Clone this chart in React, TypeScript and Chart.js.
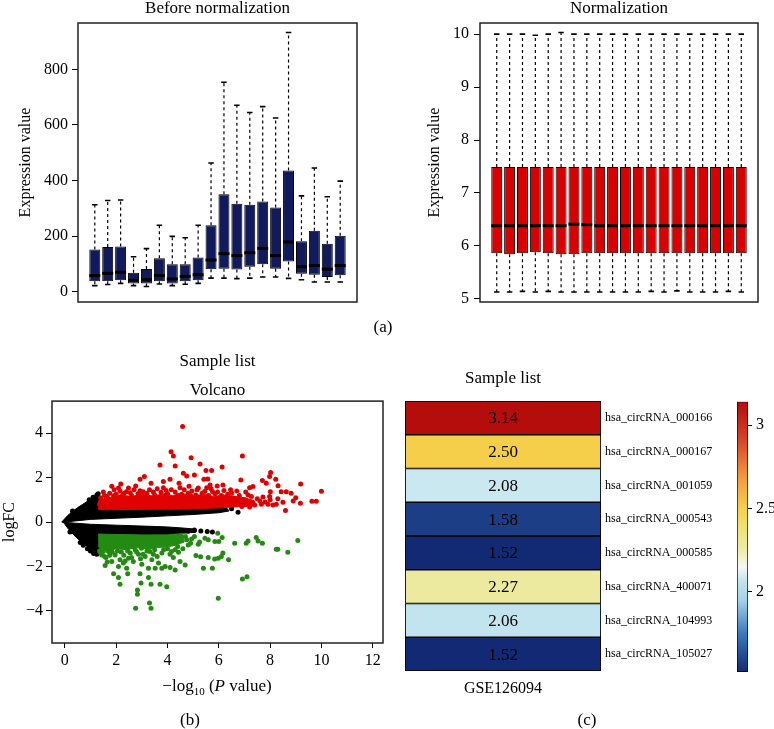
import React, { useEffect, useRef } from 'react';
import { Chart, registerables } from 'chart.js';

Chart.register(...registerables);

const FONT = '"Liberation Serif", "Times New Roman", serif';
Chart.defaults.font.family = FONT;
Chart.defaults.color = '#000';

// ---------- (a) left: Before normalization (20 samples) ----------
const rawLow = [22, 26, 30, 22, 19, 28, 22, 27, 30, 49, 49, 47, 49, 53, 53, 48, 43, 35, 35, 35];
const rawQ1 = [38, 38, 41, 30, 30, 38, 30, 38, 41, 81, 83, 80, 90, 99, 83, 109, 65, 61, 53, 59];
const rawMedian = [58, 66, 70, 41, 43, 58, 46, 55, 61, 114, 137, 130, 140, 156, 130, 179, 90, 94, 81, 94];
const rawQ3 = [152, 161, 163, 68, 82, 120, 99, 99, 123, 239, 351, 317, 313, 325, 303, 436, 182, 219, 173, 201];
const rawHigh = [313, 328, 330, 126, 155, 239, 199, 194, 239, 463, 754, 671, 645, 666, 625, 933, 345, 445, 342, 398];
const rawTicks = [0, 200, 400, 600, 800];

// ---------- (a) right: Normalization (20 samples) ----------
const normLow = [5.13, 5.13, 5.14, 5.13, 5.14, 5.13, 5.13, 5.13, 5.13, 5.13, 5.13, 5.13, 5.14, 5.13, 5.15, 5.13, 5.13, 5.13, 5.14, 5.13];
const normQ1 = [5.86, 5.84, 5.86, 5.88, 5.86, 5.84, 5.84, 5.86, 5.86, 5.86, 5.86, 5.86, 5.86, 5.86, 5.86, 5.86, 5.86, 5.86, 5.86, 5.86];
const normMedian = [6.38, 6.38, 6.38, 6.38, 6.38, 6.38, 6.41, 6.40, 6.38, 6.38, 6.38, 6.38, 6.38, 6.38, 6.38, 6.38, 6.38, 6.38, 6.38, 6.38];
const normQ3 = [7.49, 7.49, 7.49, 7.49, 7.49, 7.49, 7.49, 7.49, 7.49, 7.49, 7.49, 7.49, 7.49, 7.49, 7.49, 7.49, 7.49, 7.49, 7.49, 7.49];
const normHigh = [10.0, 10.0, 10.0, 9.98, 10.0, 10.03, 10.0, 10.0, 10.0, 10.0, 10.0, 10.0, 10.0, 10.0, 10.0, 10.0, 10.0, 10.0, 10.0, 10.0];
const normTicks = [5, 6, 7, 8, 9, 10];

// ---------- (b) Volcano ----------
const volXTicks = [0, 2, 4, 6, 8, 10, 12];
const volYTicks = [-4, -2, 0, 2, 4];
// dense non-significant cloud (outline of the solid black mass)
const nsUpperOutline: number[][] = [[-0.12, 0], [0.1, 0.28], [0.3, 0.48], [0.5, 0.65], [0.7, 0.8], [0.9, 0.95], [1.05, 1.07], [1.2, 1.17], [1.32, 1.2], [1.4, 0.7], [2, 0.68], [3, 0.68], [4, 0.7], [5, 0.7], [5.8, 0.7], [6.3, 0.64], [6.4, 0.5], [6, 0.42], [5, 0.34], [4, 0.28], [3, 0.22], [2, 0.17], [1, 0.12], [0.4, 0.05], [0, 0]];
const nsLowerOutline: number[][] = [[-0.12, 0], [0.4, -0.05], [1, -0.1], [2, -0.14], [3, -0.18], [4, -0.22], [4.6, -0.27], [5.1, -0.32], [5.1, -0.46], [4.6, -0.5], [4, -0.56], [3, -0.6], [2, -0.62], [1.4, -0.65], [1.32, -1.38], [1.15, -1.32], [0.95, -1.17], [0.75, -1.0], [0.55, -0.8], [0.35, -0.58], [0.15, -0.33], [0, -0.1]];
const nsPoints: number[][] = [[0.6, -0.92], [0.72, -1.05], [0.88, -1.2], [1.0, -1.3], [1.12, -1.42], [1.25, -1.45], [0.95, 1.0], [1.1, 1.12], [1.25, 1.22], [1.3, 1.28], [4.8, -0.42], [5.05, -0.36], [5.3, -0.4], [5.55, -0.43], [5.75, -0.45], [5.9, 0.55], [6.2, 0.58], [6.5, 0.6], [6.75, 0.44], [0.3, 0.5], [0.2, -0.45]];
// up-regulated (red)
const upCoreOutline: number[][] = [[1.3, 0.56], [2, 0.56], [3, 0.57], [4, 0.58], [5, 0.6], [6, 0.64], [6.6, 0.68], [7.4, 0.72], [7.4, 0.95], [7.0, 1.1], [6.6, 1.15], [6.2, 1.22], [5.8, 1.15], [5.4, 1.25], [5.0, 1.18], [4.6, 1.28], [4.2, 1.2], [3.8, 1.25], [3.4, 1.18], [3.0, 1.25], [2.6, 1.15], [2.2, 1.22], [1.8, 1.12], [1.5, 1.05], [1.3, 0.95]];
const upPoints: number[][] = [[4.59, 4.30], [4.14, 3.17], [4.23, 2.98], [4.92, 2.90], [6.92, 2.98], [3.71, 2.57], [4.30, 2.53], [5.27, 2.62], [6.13, 2.48], [5.50, 2.32], [5.72, 2.32], [4.62, 2.20], [4.75, 2.08], [5.05, 2.12], [3.10, 2.05], [2.93, 1.93], [4.10, 1.93], [5.42, 1.93], [5.57, 1.94], [5.94, 1.63], [6.16, 1.67], [3.36, 1.75], [3.84, 1.83], [3.84, 1.55], [2.76, 1.63], [2.18, 1.72], [2.09, 1.53], [1.83, 1.61], [1.92, 1.46], [2.48, 1.53], [2.93, 1.41], [4.45, 1.75], [4.49, 1.55], [4.84, 1.61], [5.20, 1.53], [5.53, 1.55], [5.66, 1.67], [6.86, 1.90], [7.70, 1.87], [7.98, 2.05], [8.02, 2.23], [8.22, 1.93], [7.85, 1.75], [8.31, 1.64], [9.19, 1.72], [7.20, 1.55], [7.33, 1.60], [6.46, 1.45], [8.43, 1.37], [8.63, 1.37], [8.82, 1.30], [8.01, 1.37], [10.0, 1.39], [7.72, 1.13], [7.98, 1.15], [8.24, 0.80], [9.18, 0.85], [9.63, 0.94], [9.80, 0.94], [8.50, 0.89], [8.11, 0.77], [8.60, 0.52], [7.66, 0.80], [7.92, 0.80], [7.14, 1.22], [7.27, 1.15], [6.62, 1.07], [7.01, 1.0], [7.40, 0.77], [1.55, 1.2], [1.75, 1.3], [2.0, 1.25], [2.3, 1.3], [2.6, 1.2], [2.85, 1.28], [3.2, 1.3], [3.5, 1.22], [3.75, 1.34], [4.0, 1.27], [4.3, 1.35], [4.55, 1.25], [4.8, 1.3], [5.1, 1.22], [5.35, 1.3], [5.6, 1.2], [5.85, 1.28], [6.1, 1.2], [6.35, 1.25], [6.8, 1.2], [1.4, 1.1], [1.35, 0.8], [2.4, 1.37], [3.05, 1.37], [3.95, 1.42], [4.95, 1.4], [5.75, 1.38], [1.5, 1.35], [1.65, 1.15], [1.9, 1.18], [2.15, 1.4], [2.25, 1.2], [2.55, 1.32], [2.7, 1.45], [2.95, 1.2], [3.3, 1.45], [3.45, 1.35], [3.6, 1.5], [3.9, 1.2], [4.15, 1.45], [4.4, 1.2], [4.65, 1.45], [4.9, 1.2], [5.15, 1.45], [5.45, 1.38], [5.7, 1.5], [5.95, 1.35], [6.2, 1.42], [6.5, 1.3], [6.7, 1.4], [7.05, 1.35], [7.5, 1.05], [7.6, 0.95], [7.8, 0.9], [8.0, 1.0], [8.3, 1.05], [8.9, 0.95], [9.0, 1.1], [6.9, 0.7], [7.2, 0.68]];
// down-regulated (green)
const downCoreOutline: number[][] = [[1.3, -0.54], [2, -0.56], [3, -0.58], [4, -0.58], [4.6, -0.52], [4.65, -0.9], [4.3, -1.05], [4.0, -1.12], [3.6, -1.15], [3.2, -1.22], [2.8, -1.15], [2.4, -1.25], [2.0, -1.2], [1.7, -1.3], [1.45, -1.25], [1.3, -1.1]];
const downPoints: number[][] = [[1.57, -1.96], [1.90, -2.33], [2.09, -2.50], [2.15, -2.80], [2.45, -2.33], [2.93, -2.33], [3.26, -2.50], [2.97, -2.75], [3.36, -2.80], [3.71, -2.80], [3.97, -2.91], [2.83, -3.06], [2.83, -3.25], [2.76, -3.88], [3.30, -3.65], [3.36, -3.88], [5.98, -3.43], [3.52, -2.08], [3.78, -2.08], [4.10, -2.05], [3.26, -2.08], [4.30, -2.16], [4.69, -1.93], [5.40, -2.08], [5.75, -2.08], [4.49, -1.78], [4.23, -1.60], [5.11, -1.51], [5.29, -1.56], [5.59, -1.60], [4.43, -1.36], [4.81, -1.03], [5.20, -1.00], [5.59, -0.80], [5.85, -0.88], [5.96, -0.50], [4.94, -0.76], [5.46, -0.73], [5.98, -1.63], [6.13, -0.70], [6.00, -0.88], [6.62, -0.95], [7.14, -0.85], [7.07, -0.95], [7.46, -0.70], [7.53, -0.85], [7.70, -0.95], [9.08, -0.83], [8.24, -1.22], [8.30, -1.22], [8.69, -1.36], [6.16, -1.40], [6.10, -1.55], [5.84, -1.67], [6.38, -1.70], [6.92, -2.57], [7.10, -2.47], [1.44, -1.48], [1.70, -1.33], [1.96, -1.48], [2.15, -1.70], [2.28, -1.85], [2.48, -1.63], [2.67, -1.78], [2.87, -1.45], [3.13, -1.55], [3.39, -1.70], [3.65, -1.85], [3.91, -2.0], [2.09, -2.0], [2.41, -2.08], [1.83, -1.78], [1.50, -1.33], [2.74, -1.25], [2.99, -1.18], [3.32, -1.33], [3.78, -1.40], [4.16, -1.33], [1.6, -1.6], [2.2, -1.35], [2.55, -1.4], [3.5, -1.25], [4.0, -1.2], [4.4, -1.1], [4.7, -0.65], [4.9, -0.95], [1.35, -1.3], [1.4, -1.4], [1.55, -1.55], [1.75, -1.5], [1.85, -1.35], [2.05, -1.3], [2.3, -1.5], [2.45, -1.3], [2.6, -1.6], [2.8, -1.35], [3.05, -1.45], [3.2, -1.3], [3.45, -1.45], [3.6, -1.55], [3.85, -1.25], [4.1, -1.45], [4.3, -1.25], [2.35, -1.75], [2.95, -1.65], [1.65, -1.8], [3.0, -1.9], [4.6, -1.2], [4.75, -0.8], [5.05, -0.65], [5.25, -0.9]];

// ---------- (c) Heatmap ----------
const circNames = ['hsa_circRNA_000166', 'hsa_circRNA_000167', 'hsa_circRNA_001059', 'hsa_circRNA_000543', 'hsa_circRNA_000585', 'hsa_circRNA_400071', 'hsa_circRNA_104993', 'hsa_circRNA_105027'];
const heatValues = [3.14, 2.50, 2.08, 1.58, 1.52, 2.27, 2.06, 1.52];
const heatColumn = 'GSE126094';
const cbTicks = [2, 2.5, 3];
const cbStops = [1.52, 1.58, 1.75, 1.95, 2.07, 2.15, 2.27, 2.40, 2.50, 2.70, 2.90, 3.14];
const cbColors = ['#122a73', '#1b3e87', '#3a78be', '#a5d0e8', '#c3e6ee', '#f7f8f2', '#ecea9f', '#f3e06a', '#f6cf4a', '#f2953a', '#dc4628', '#b40d0c'];

function hexToRgb(h: string) {
  const n = parseInt(h.slice(1), 16);
  return [(n >> 16) & 255, (n >> 8) & 255, n & 255];
}
function colorFor(v: number) {
  if (v <= cbStops[0]) return cbColors[0];
  for (let i = 1; i < cbStops.length; i++) {
    if (v <= cbStops[i]) {
      const t = (v - cbStops[i - 1]) / (cbStops[i] - cbStops[i - 1]);
      const a = hexToRgb(cbColors[i - 1]);
      const b = hexToRgb(cbColors[i]);
      const c = a.map((x, k) => Math.round(x + (b[k] - x) * t));
      return `rgb(${c[0]},${c[1]},${c[2]})`;
    }
  }
  return cbColors[cbColors.length - 1];
}

const framePlugin = {
  id: 'frame',
  afterDraw(chart: any) {
    const { ctx, chartArea: a } = chart;
    ctx.save();
    ctx.strokeStyle = '#222';
    ctx.lineWidth = 1.5;
    ctx.strokeRect(a.left, a.top, a.right - a.left, a.bottom - a.top);
    ctx.restore();
  },
};

function boxPlugin(low: number[], q1: number[], med: number[], q3: number[], high: number[]) {
  return {
    id: 'boxWhisker',
    afterDatasetsDraw(chart: any) {
      const { ctx } = chart;
      const y = chart.scales.y;
      const meta = chart.getDatasetMeta(0);
      const py = (v: number) => y.getPixelForValue(v);
      ctx.save();
      ctx.strokeStyle = '#000';
      meta.data.forEach((el: any, i: number) => {
        const cx = el.x;
        const w = el.width;
        ctx.lineWidth = 1.2;
        ctx.setLineDash([3, 3]);
        ctx.beginPath();
        ctx.moveTo(cx, py(q3[i]));
        ctx.lineTo(cx, py(high[i]));
        ctx.moveTo(cx, py(q1[i]));
        ctx.lineTo(cx, py(low[i]));
        ctx.stroke();
        ctx.setLineDash([]);
        ctx.lineWidth = 1.6;
        ctx.beginPath();
        ctx.moveTo(cx - w / 4, py(high[i]));
        ctx.lineTo(cx + w / 4, py(high[i]));
        ctx.moveTo(cx - w / 4, py(low[i]));
        ctx.lineTo(cx + w / 4, py(low[i]));
        ctx.stroke();
        ctx.lineWidth = 3;
        ctx.beginPath();
        ctx.moveTo(cx - w / 2, py(med[i]));
        ctx.lineTo(cx + w / 2, py(med[i]));
        ctx.stroke();
      });
      ctx.restore();
    },
  };
}

const cellTextPlugin = {
  id: 'cellText',
  afterDatasetsDraw(chart: any) {
    const { ctx } = chart;
    const meta = chart.getDatasetMeta(0);
    ctx.save();
    ctx.font = `17px ${FONT}`;
    ctx.fillStyle = '#000';
    ctx.textAlign = 'center';
    ctx.textBaseline = 'middle';
    meta.data.forEach((el: any, i: number) => {
      ctx.fillText(heatValues[i].toFixed(2), (el.x + el.base) / 2, el.y + 1);
    });
    ctx.restore();
  },
};

const minus = (v: number) => (v < 0 ? '\u2212' + Math.abs(v) : String(v));

function boxChart(
  canvas: HTMLCanvasElement, title: string, low: number[], q1: number[], med: number[], q3: number[], high: number[],
  color: string, yMin: number, yMax: number, ticks: number[], axisWidth: number, titlePad: number, padRight: number, tickPad: number,
) {
  return new Chart(canvas, {
    type: 'bar',
    data: {
      datasets: [{
        data: q1.map((v, i) => ({ x: i + 1, y: [v, q3[i]] })) as any,
        backgroundColor: color,
        borderColor: '#000',
        borderWidth: 1,
        borderSkipped: false,
        barPercentage: 0.85,
        categoryPercentage: 1,
      }],
    },
    options: {
      responsive: false,
      animation: false,
      devicePixelRatio: 1,
      layout: { padding: { left: 0, right: padRight, top: 0, bottom: 18 } },
      plugins: {
        legend: { display: false },
        tooltip: { enabled: false },
        title: { display: true, text: title, fullSize: false, color: '#000', font: { family: FONT, size: 17, weight: 'normal', lineHeight: 1 }, padding: { top: 0, bottom: 6 } },
      },
      scales: {
        x: { type: 'linear', min: -0.3, max: 21.3, display: false, offset: false },
        y: {
          type: 'linear', min: yMin, max: yMax,
          afterFit: (s: any) => { s.width = axisWidth; },
          afterBuildTicks: (s: any) => { s.ticks = ticks.map((v) => ({ value: v })); },
          ticks: { color: '#000', font: { family: FONT, size: 16 }, padding: tickPad, callback: (v: any) => String(v) },
          grid: { drawOnChartArea: false, tickLength: 6, color: '#000' },
          border: { display: false },
          title: { display: true, text: 'Expression value', color: '#000', font: { family: FONT, size: 16 }, padding: { top: titlePad, bottom: 0 } },
        },
      },
    } as any,
    plugins: [boxPlugin(low, q1, med, q3, high), framePlugin],
  });
}

const pts = (arr: number[][]) => arr.map(([x, y]) => ({ x, y }));

export default function App() {
  const aRef = useRef<HTMLCanvasElement>(null);
  const bRef = useRef<HTMLCanvasElement>(null);
  const vRef = useRef<HTMLCanvasElement>(null);
  const hRef = useRef<HTMLCanvasElement>(null);
  const cRef = useRef<HTMLCanvasElement>(null);

  useEffect(() => {
    const charts: Chart[] = [];
    charts.push(boxChart(aRef.current!, 'Before normalization', rawLow, rawQ1, rawMedian, rawQ3, rawHigh, '#101a5c', -37, 967, rawTicks, 78, 16.4, 33, 4));
    charts.push(boxChart(bRef.current!, 'Normalization', normLow, normQ1, normMedian, normQ3, normHigh, '#d90000', 4.94, 10.21, normTicks, 90, 35.4, 16, 5));

    const area = (arr: number[][], color: string, order: number) => ({
      data: pts(arr), showLine: true, fill: 'shape', backgroundColor: color, borderColor: color,
      borderWidth: 1, pointRadius: 0, tension: 0, order,
    });
    const dots = (arr: number[][], color: string, order: number) => ({
      data: pts(arr), showLine: false, backgroundColor: color, borderColor: color,
      borderWidth: 0, pointRadius: 2.5, order,
    });

    charts.push(new Chart(vRef.current!, {
      type: 'scatter',
      data: {
        datasets: [
          area(nsUpperOutline, '#000', 4),
          area(nsLowerOutline, '#000', 4),
          dots(nsPoints, '#000', 3),
          area(upCoreOutline, '#e00000', 2),
          area(downCoreOutline, '#238a12', 2),
          dots(upPoints, '#e00000', 1),
          dots(downPoints, '#238a12', 1),
        ] as any,
      },
      options: {
        responsive: false,
        animation: false,
        devicePixelRatio: 1,
        layout: { padding: { left: 0, right: 7, top: 0, bottom: 0 } },
        plugins: {
          legend: { display: false },
          tooltip: { enabled: false },
          title: { display: true, text: ['Sample list', 'Volcano'], fullSize: false, color: '#000', font: { family: FONT, size: 17, weight: 'normal', lineHeight: 1.65 }, padding: { top: 18, bottom: -3 } },
        },
        scales: {
          x: {
            type: 'linear', min: -0.5, max: 12.4,
            afterFit: (s: any) => { s.height = 86; },
            afterBuildTicks: (s: any) => { s.ticks = volXTicks.map((v) => ({ value: v })); },
            ticks: { color: '#000', font: { family: FONT, size: 16 }, padding: 3.4, callback: (v: any) => minus(Number(v)) },
            grid: { drawOnChartArea: false, tickLength: 5, color: '#000' },
            border: { display: false },
          },
          y: {
            type: 'linear', min: -5.45, max: 5.45,
            afterFit: (s: any) => { s.width = 52; },
            afterBuildTicks: (s: any) => { s.ticks = volYTicks.map((v) => ({ value: v })); },
            ticks: { color: '#000', font: { family: FONT, size: 16 }, padding: 3, callback: (v: any) => minus(Number(v)) },
            grid: { drawOnChartArea: false, tickLength: 6, color: '#000' },
            border: { display: false },
            title: { display: true, text: 'logFC', color: '#000', font: { family: FONT, size: 16 }, padding: { top: 0.4, bottom: 0 } },
          },
        },
      } as any,
      plugins: [framePlugin],
    }));

    charts.push(new Chart(hRef.current!, {
      type: 'bar',
      data: {
        labels: circNames,
        datasets: [{
          data: heatValues.map(() => [0, 1]) as any,
          backgroundColor: heatValues.map((v) => colorFor(v)),
          borderColor: '#000',
          borderWidth: 1.2,
          borderSkipped: false,
          barPercentage: 1,
          categoryPercentage: 1,
        }],
      },
      options: {
        indexAxis: 'y',
        responsive: false,
        animation: false,
        devicePixelRatio: 1,
        layout: { padding: { left: 15, right: 0, top: 0, bottom: 0 } },
        plugins: {
          legend: { display: false },
          tooltip: { enabled: false },
          title: { display: true, text: 'Sample list', fullSize: false, color: '#000', font: { family: FONT, size: 17, weight: 'normal', lineHeight: 1.2 }, padding: { top: 38.8, bottom: 11.8 } },
        },
        scales: {
          y: {
            type: 'category', position: 'right',
            afterFit: (s: any) => { s.width = 119; },
            ticks: { color: '#000', font: { family: FONT, size: 12 }, padding: 4 },
            grid: { display: false, drawTicks: false },
            border: { display: false },
          },
          x: {
            type: 'linear', min: 0, max: 1, position: 'bottom',
            afterFit: (s: any) => { s.height = 58; },
            ticks: { display: false },
            grid: { display: false, drawTicks: false },
            border: { display: false },
            title: { display: true, text: heatColumn, color: '#000', font: { family: FONT, size: 16 }, padding: { top: 0, bottom: 30.4 } },
          },
        },
      } as any,
      plugins: [cellTextPlugin],
    }));

    charts.push(new Chart(cRef.current!, {
      type: 'bar',
      data: {
        labels: [''],
        datasets: [{
          data: [[cbStops[0], cbStops[cbStops.length - 1]]] as any,
          backgroundColor: (c: any) => {
            const { chart } = c;
            const a = chart.chartArea;
            if (!a) return '#ccc';
            const ys = chart.scales.y;
            const g = chart.ctx.createLinearGradient(0, a.bottom, 0, a.top);
            cbStops.forEach((v, i) => {
              const p = (a.bottom - ys.getPixelForValue(v)) / (a.bottom - a.top);
              g.addColorStop(Math.min(1, Math.max(0, p)), cbColors[i]);
            });
            return g;
          },
          borderColor: '#000',
          borderWidth: 1,
          borderSkipped: false,
          barPercentage: 1,
          categoryPercentage: 1,
        }],
      },
      options: {
        responsive: false,
        animation: false,
        devicePixelRatio: 1,
        layout: { padding: { left: 17, right: 0, top: 71.7, bottom: 57 } },
        plugins: { legend: { display: false }, tooltip: { enabled: false } },
        scales: {
          x: { type: 'category', display: false },
          y: {
            type: 'linear', position: 'right', min: cbStops[0], max: cbStops[cbStops.length - 1],
            afterFit: (s: any) => { s.width = 26; },
            afterBuildTicks: (s: any) => { s.ticks = cbTicks.map((v) => ({ value: v })); },
            ticks: { color: '#000', font: { family: FONT, size: 16 }, padding: 4, callback: (v: any) => String(v) },
            grid: { drawOnChartArea: false, tickLength: 4, color: '#000' },
            border: { display: false },
          },
        },
      } as any,
    }));

    return () => charts.forEach((c) => c.destroy());
  }, []);

  const abs = (left: number, top: number): React.CSSProperties => ({ position: 'absolute', left, top });
  const label = (x: number, y: number): React.CSSProperties => ({
    position: 'absolute', left: x, top: y, transform: 'translate(-50%, -50%)', fontFamily: FONT,
    fontSize: 17, lineHeight: 1, whiteSpace: 'nowrap', color: '#000',
  });

  return (
    <div style={{ position: 'fixed', left: 0, top: 0, width: 774, height: 729, background: '#fff', overflow: 'hidden' }}>
      <canvas ref={aRef} width={390} height={320} style={abs(0, 0)} />
      <canvas ref={bRef} width={384} height={320} style={abs(390, 0)} />
      <canvas ref={vRef} width={390} height={399} style={abs(0, 330)} />
      <canvas ref={hRef} width={330} height={399} style={abs(390, 330)} />
      <canvas ref={cRef} width={54} height={399} style={abs(720, 330)} />
      <div style={label(383, 326)}>(a)</div>
      <div style={label(190, 719)}>(b)</div>
      <div style={label(587, 719)}>(c)</div>
      <div style={label(217, 687)}>
        {'\u2212log'}<sub style={{ fontSize: 11, verticalAlign: 'sub' }}>10</sub>{' ('}<i>P</i>{' value)'}
      </div>
    </div>
  );
}
